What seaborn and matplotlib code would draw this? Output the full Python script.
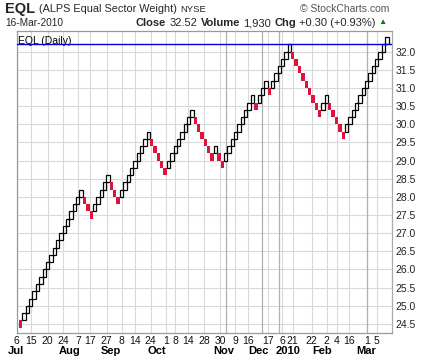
import matplotlib
matplotlib.use("Agg")
import matplotlib.pyplot as plt
import seaborn as sns
import numpy as np
import pandas as pd

# ---------------- data ----------------
box_size = 0.2
start_bottom = 24.4
leg_directions = [-1, 1, -1, 1, -1, 1, -1, 1, -1, 1, -1, 1, -1, 1, -1, 1, -1, 1, -1, 1]
leg_lengths = [1, 18, 3, 5, 3, 9, 5, 8, 6, 1, 2, 9, 1, 3, 1, 6, 9, 2, 5, 13]
last_level = 32.2

day_positions = [-0.68, 3.57, 8.54, 13.18, 17.65, 21.13, 26.1, 30.57, 34.52, 39.2,
                 43.66, 46.43, 50.3, 55.06, 59.82, 64.29, 68.15, 74.1, 78.27, 81.46,
                 87.11, 91.58, 94.55, 98.21, 103.48, 106.46]
day_labels = ["6", "15", "20", "24", "7", "17", "27", "8", "14", "24", "1", "8", "14",
              "28", "30", "9", "16", "17", "6", "21", "22", "2", "4", "16", "1", "5"]
month_positions = [-0.9, 15.2, 27.4, 41.1, 61.0, 71.4, 80.1, 90.1, 103.3]
month_labels = ["Jul", "Aug", "Sep", "Oct", "Nov", "Dec", "2010", "Feb", "Mar"]
dark_grid_positions = [61.6, 72.3, 77.4, 103.5]
y_ticks = [24.5, 25.0, 25.5, 26.0, 26.5, 27.0, 27.5, 28.0, 28.5, 29.0, 29.5, 30.0,
           30.5, 31.0, 31.5, 32.0]
y_tick_labels = ["24.5", "25.0", "25.5", "26.0", "26.5", "27.0", "27.5", "28.0", "28.5",
                 "29.0", "29.5", "30.0", "30.5", "31.0", "31.5", "32.0"]

# ---------------- build renko bricks ----------------
dirs = np.repeat(leg_directions, leg_lengths)
levels = np.cumsum(dirs) - dirs[0]
bricks = pd.DataFrame({
    "idx": np.arange(len(dirs)),
    "bottom": start_bottom + box_size * levels,
    "dir": dirs,
})

W, H = 433, 360
sns.set_style("white")
plt.rcParams['font.family'] = ['Liberation Sans', 'DejaVu Sans']
fig = plt.figure(figsize=(W / 100, H / 100), dpi=100)

ax_l, ax_r, ax_t, ax_b = 16.7, 391.7, 31, 333
ax = fig.add_axes([ax_l / W, 1 - ax_b / H, (ax_r - ax_l) / W, (ax_b - ax_t) / H])

ax.set_xlim(-0.68, 110.93)
ax.set_ylim(24.25, 32.57)

# grid
for y in y_ticks:
    ax.axhline(y, color="#d9d9d9", lw=0.8, zorder=0)
for x in day_positions:
    ax.axvline(x, color="#d9d9d9", lw=0.8, zorder=0)
for x in dark_grid_positions:
    ax.axvline(x, color="#b0b0b0", lw=0.9, zorder=0)

up = bricks[bricks["dir"] > 0]
dn = bricks[bricks["dir"] < 0]
ax.bar(up["idx"], box_size, bottom=up["bottom"], width=1.0, align="edge",
       facecolor="white", edgecolor="black", linewidth=0.9, zorder=3)
ax.bar(dn["idx"], box_size, bottom=dn["bottom"], width=1.0, align="edge",
       facecolor="#dc143c", edgecolor="none", linewidth=0, zorder=3)

ax.axhline(last_level, color="#0000cc", lw=1.0, zorder=4)

# axes
ax.yaxis.tick_right()
ax.set_yticks(y_ticks)
ax.set_yticklabels(y_tick_labels, fontsize=7.5, color="#222222")
ax.tick_params(axis="y", length=0, pad=3)
ax.set_xticks(day_positions)
ax.set_xticklabels(day_labels, fontsize=7.5, color="#111111")
ax.tick_params(axis="x", length=0, pad=2)
for s in ["left", "bottom", "top"]:
    ax.spines[s].set_color("#999999")
    ax.spines[s].set_linewidth(0.9)
ax.spines["right"].set_color("#aaaaaa")
ax.spines["right"].set_linestyle((0, (1, 1)))
ax.spines["right"].set_linewidth(0.9)

for x, lab in zip(month_positions, month_labels):
    ax.text(x, -0.059, lab, transform=ax.get_xaxis_transform(), ha="center", va="center",
            fontsize=8, fontweight="bold", color="black")

ax.text(0.004, 0.985, "EQL (Daily)", transform=ax.transAxes, ha="left", va="top",
        fontsize=7.5, color="black")

# header texts (pixel positions), placed one after another
renderer = fig.canvas.get_renderer()


def chain(x0, y, parts, gap=3.0):
    x = x0
    for s, kw in parts:
        t = fig.text(x / W, 1 - y / H, s, va="center", ha="left", **kw)
        w = t.get_window_extent(renderer).width
        x += w + gap
    return x


chain(5, 9, [("EQL", dict(fontsize=10.5, fontweight="bold")),
             ("(ALPS Equal Sector Weight)", dict(fontsize=7.8)),
             ("NYSE", dict(fontsize=6.8))], gap=3.5)
fig.text(389 / W, 1 - 9 / H, "\u00a9 StockCharts.com", fontsize=7.5, color="#555555",
         ha="right", va="center")
fig.text(5 / W, 1 - 23 / H, "16-Mar-2010", fontsize=7.3, va="center")
chain(136, 23, [("Close", dict(fontsize=8, fontweight="bold")),
                ("32.52", dict(fontsize=8)),
                ("Volume", dict(fontsize=8, fontweight="bold")),
                ("1,930", dict(fontsize=8)),
                ("Chg", dict(fontsize=8, fontweight="bold")),
                ("+0.30 (+0.93%)", dict(fontsize=8)),
                ("\u25b2", dict(fontsize=6, color="#008000"))], gap=3.2)

fig.savefig("out.png", dpi=100)
